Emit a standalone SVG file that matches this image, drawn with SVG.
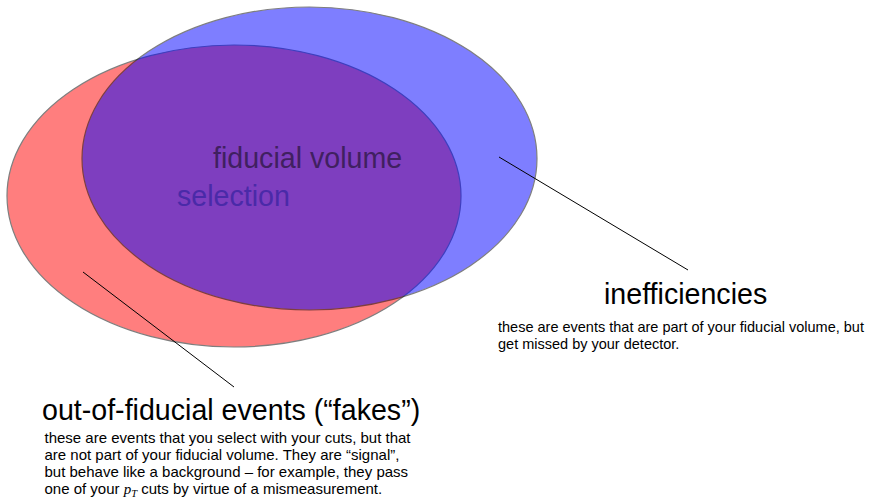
<svg xmlns="http://www.w3.org/2000/svg" width="879" height="501" viewBox="0 0 879 501">
<style>
.ell{stroke:#000;stroke-width:1.2;opacity:0.5}
.con{stroke:#000;stroke-width:1;fill:none}
.h{font-family:"Liberation Sans",Arial,Helvetica,sans-serif;font-size:28.6px;fill:#000}
.b{font-family:"Liberation Sans",Arial,Helvetica,sans-serif;font-size:14.5px;fill:#000}
.bl{font-family:"Liberation Sans",Arial,Helvetica,sans-serif;font-size:15px;fill:#000}
.m{font-family:"Liberation Serif","Times New Roman",serif;font-style:italic}
</style>
<rect width="879" height="501" fill="#fff"/>
<g id="selection-set">
<ellipse class="ell" cx="234" cy="196" rx="227" ry="151" fill="#f00"/>
</g>
<g id="fiducial-set">
<ellipse class="ell" cx="309.5" cy="158.5" rx="227.5" ry="151.5" fill="#00f"/>
</g>
<g id="labels-inner">
<text class="h" x="213" y="168" style="fill:#402060">fiducial volume</text>
<text class="h" x="177" y="206" style="fill:#4a2aa8">selection</text>
</g>
<g id="connectors">
<line class="con" x1="499" y1="157" x2="688" y2="270"/>
<line class="con" x1="83" y1="272" x2="234" y2="387"/>
</g>
<g id="inefficiencies">
<text class="h" x="604" y="304">inefficiencies</text>
<text class="b" x="498" y="332">these are events that are part of your fiducial volume, but</text>
<text class="b" x="498" y="349">get missed by your detector.</text>
</g>
<g id="fakes">
<text class="h" x="42" y="420">out-of-fiducial events (“fakes”)</text>
<text class="bl" x="44.5" y="443">these are events that you select with your cuts, but that</text>
<text class="bl" x="44.5" y="460">are not part of your fiducial volume.  They are “signal”,</text>
<text class="bl" x="44.5" y="477">but behave like a background – for example, they pass</text>
<text class="bl" x="44.5" y="494">one of your <tspan class="m">p</tspan><tspan class="m" font-size="10.5" dy="3">T</tspan><tspan dy="-3"> cuts by virtue of a mismeasurement.</tspan></text>
</g>
</svg>
